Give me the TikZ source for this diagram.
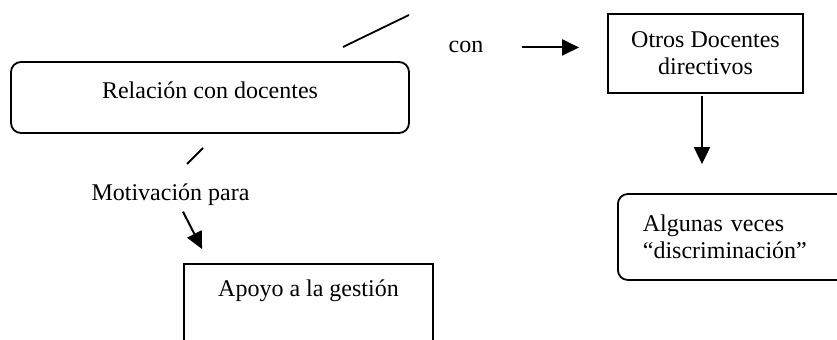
\documentclass[tikz,border=0pt]{standalone}
\usepackage{fontspec}
\setmainfont{Liberation Serif}
\usetikzlibrary{positioning,arrows.meta,calc}

\begin{document}
\begin{tikzpicture}[
            x=0.5pt, y=-0.5pt,
            font=\fontsize{12}{13.5}\selectfont,
            line width=0.9pt,
            point/.style = {coordinate},
            block/.style={rectangle, draw, inner sep=0pt},
            roundblock/.style={rectangle, draw, rounded corners=5pt},
            arrow/.style={-{Triangle[length=8.5pt,width=8pt]}, line width=1pt}
        ]
            \useasboundingbox (0,0) rectangle (837,340);
            \clip (0,0) rectangle (837,340);

            \node [roundblock,inner sep=0pt,minimum width=199pt,text height=18.5pt,text depth=17pt,anchor=base] (Relacion) at (210,99) {Relación con docentes};
            \node [anchor=base] (con) at (466,53) {con};
            \node [block,minimum width=97.5pt,minimum height=39.5pt,align=center] (Otros) at (705.5,53.5) {Otros Docentes\\directivos};
            \node [roundblock,minimum height=43pt,text width=120pt,align=left,inner xsep=12.5pt,inner ysep=0pt,anchor=west] (Algunas) at (617,237) {Algunas veces\\“discriminación”};
            \node [anchor=base] (Motivacion) at (170.5,201) {Motivación para};
            \node [block,minimum width=124.5pt,text height=16.5pt,text depth=40pt,anchor=base] (Apoyo) at (308.5,297) {Apoyo a la gestión};

            % loose strokes
            \coordinate (topA) at (343,47);
            \coordinate (topB) at (409,15);
            \coordinate (lowA) at (187,164);
            \coordinate (lowB) at (203,148);
            \draw (topA) -- (topB);
            \draw (lowA) -- (lowB);

            % Draw edges
            \draw [arrow] ([xshift=15.5pt]con.east) -- ([xshift=-14pt]con.east -| Otros.west);
            \draw [arrow] ([xshift=-1.75pt,yshift=-1pt]Otros.south) -- ([xshift=-1.75pt,yshift=14.5pt]Otros.south |- Algunas.north);
            \draw [arrow] ([xshift=6.25pt,yshift=1pt]Motivacion.south) -- ([xshift=9.5pt,yshift=7pt]Apoyo.north west);
        \end{tikzpicture}
\end{document}
